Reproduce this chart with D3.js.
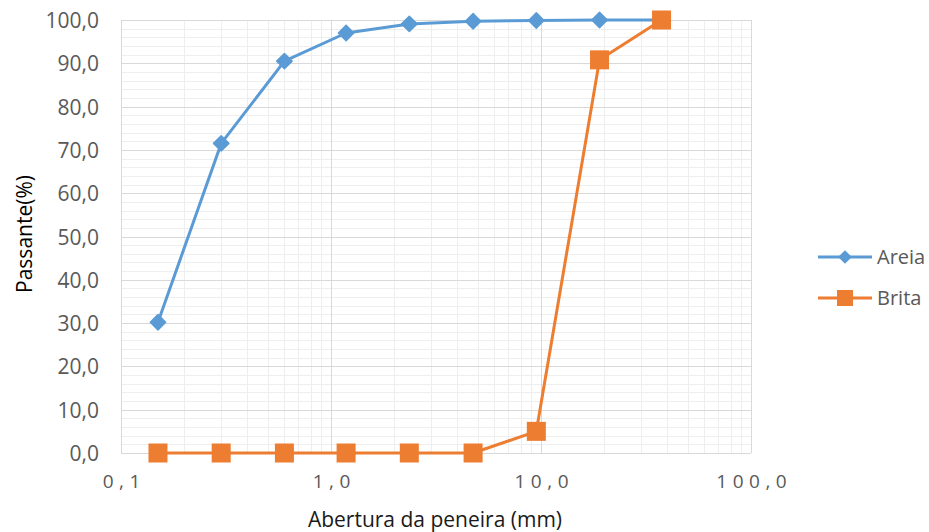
<!DOCTYPE html>
<html>
<head>
<meta charset="utf-8">
<script src="https://cdn.jsdelivr.net/npm/d3@7"></script>
<style>
  body { margin: 0; background: #fff; }
  svg { display: block; font-family: "Open Sans", sans-serif; }
</style>
</head>
<body>
<svg id="chart" width="929" height="532"></svg>
<script>
// Sieve openings (mm) and percent passing
const sieves = [0.15, 0.3, 0.6, 1.18, 2.36, 4.75, 9.5, 19, 37.5];
const areia = [30.2, 71.5, 90.5, 97.0, 99.1, 99.7, 99.9, 100, 100];
const brita = [0, 0, 0, 0, 0, 0, 5.0, 90.8, 100];
const seriesNames = ["Areia", "Brita"];
const seriesColors = ["#5B9BD5", "#ED7D31"];
const yTicks = [0, 10, 20, 30, 40, 50, 60, 70, 80, 90, 100];
const xTicks = [0.1, 1, 10, 100];

const svg = d3.select("#chart");
const m = { left: 121, right: 751, top: 20, bottom: 453 };

const x = d3.scaleLog().domain([0.1, 100]).range([m.left, m.right]);
const y = d3.scaleLinear().domain([0, 100]).range([m.bottom, m.top]);

const fmt1 = v => d3.format(".1f")(v).replace(".", ",");

// Minor grid: 2..9 within each decade, every 2 % vertically
const minorX = [];
[0.1, 1, 10].forEach(d => { for (let k = 2; k <= 9; k++) minorX.push(d * k); });
const minorY = d3.range(0, 101, 2).filter(v => v % 10 !== 0);

const px = v => Math.round(v) + 0.5;
const grid = svg.append("g");
grid.selectAll(".mx").data(minorX).join("line")
  .attr("x1", d => px(x(d))).attr("x2", d => px(x(d)))
  .attr("y1", m.top).attr("y2", m.bottom)
  .attr("stroke", "#eeeeee");
grid.selectAll(".my").data(minorY).join("line")
  .attr("y1", d => px(y(d))).attr("y2", d => px(y(d)))
  .attr("x1", m.left).attr("x2", m.right)
  .attr("stroke", "#eeeeee");
// Major grid
grid.selectAll(".Mx").data(xTicks).join("line")
  .attr("x1", d => px(x(d))).attr("x2", d => px(x(d)))
  .attr("y1", m.top).attr("y2", m.bottom)
  .attr("stroke", "#d9d9d9");
grid.selectAll(".My").data(yTicks).join("line")
  .attr("y1", d => px(y(d))).attr("y2", d => px(y(d)))
  .attr("x1", m.left).attr("x2", m.right)
  .attr("stroke", "#d9d9d9");

// Y axis labels
const yAxis = d3.axisLeft(y).tickValues(yTicks).tickFormat(fmt1).tickSize(0).tickPadding(22);
svg.append("g").attr("transform", `translate(${m.left},0)`).call(yAxis)
  .call(g => g.select(".domain").remove())
  .selectAll("text").attr("fill", "#595959").attr("font-size", 21)
  .attr("font-family", "'Open Sans', sans-serif").attr("dy", "0.36em");

// X axis labels (spaced digits)
const xAxis = d3.axisBottom(x).tickValues(xTicks)
  .tickFormat(d => d === 0.1 ? "0,1" : fmt1(d)).tickSize(0).tickPadding(22);
svg.append("g").attr("transform", `translate(0,${m.bottom})`).call(xAxis)
  .call(g => g.select(".domain").remove())
  .selectAll("text").attr("fill", "#595959").attr("font-size", 19)
  .attr("font-family", "'Open Sans', sans-serif")
  .attr("letter-spacing", "5.5px").attr("dx", "2.75px");

// Axis titles
svg.append("text").attr("x", 435).attr("y", 527).attr("text-anchor", "middle")
  .attr("font-size", 21).attr("fill", "#1a1a1a").text("Abertura da peneira (mm)");
svg.append("text").attr("transform", "translate(32,234) rotate(-90)").attr("text-anchor", "middle")
  .attr("font-size", 21).attr("fill", "#000").text("Passante(%)");

// Series lines and markers
const line = d3.line().x(d => x(d[0])).y(d => y(d[1]));
const dataA = sieves.map((s, i) => [s, areia[i]]);
const dataB = sieves.map((s, i) => [s, brita[i]]);

svg.append("path").datum(dataA).attr("d", line).attr("fill", "none")
  .attr("stroke", seriesColors[0]).attr("stroke-width", 3).attr("stroke-linejoin", "round");
svg.append("g").selectAll("path").data(dataA).join("path")
  .attr("d", d3.symbol(d3.symbolDiamond2, 150)())
  .attr("transform", d => `translate(${x(d[0])},${y(d[1])})`)
  .attr("fill", seriesColors[0]).attr("stroke", seriesColors[0]).attr("stroke-width", 1.5)
  .attr("stroke-linejoin", "round");

svg.append("path").datum(dataB).attr("d", line).attr("fill", "none")
  .attr("stroke", seriesColors[1]).attr("stroke-width", 3).attr("stroke-linejoin", "round");
svg.append("g").selectAll("rect").data(dataB).join("rect")
  .attr("x", d => x(d[0]) - 9.5).attr("y", d => y(d[1]) - 9.5)
  .attr("width", 19).attr("height", 19)
  .attr("fill", seriesColors[1]);

// Legend
const legend = svg.append("g");
const ly = [257, 298];
seriesNames.forEach((name, i) => {
  const g = legend.append("g").attr("transform", `translate(0,${ly[i]})`);
  g.append("line").attr("x1", 818).attr("x2", 872).attr("stroke", seriesColors[i]).attr("stroke-width", 3);
  if (i === 0) {
    g.append("path").attr("d", d3.symbol(d3.symbolDiamond2, 120)()).attr("transform", "translate(845,0)")
      .attr("fill", seriesColors[i]);
  } else {
    g.append("rect").attr("x", 837).attr("y", -8).attr("width", 16).attr("height", 16).attr("fill", seriesColors[i]);
  }
  g.append("text").attr("x", 877).attr("y", 0).attr("dy", "0.36em").attr("font-size", 20)
    .attr("fill", "#595959").text(name);
});
</script>
</body>
</html>
